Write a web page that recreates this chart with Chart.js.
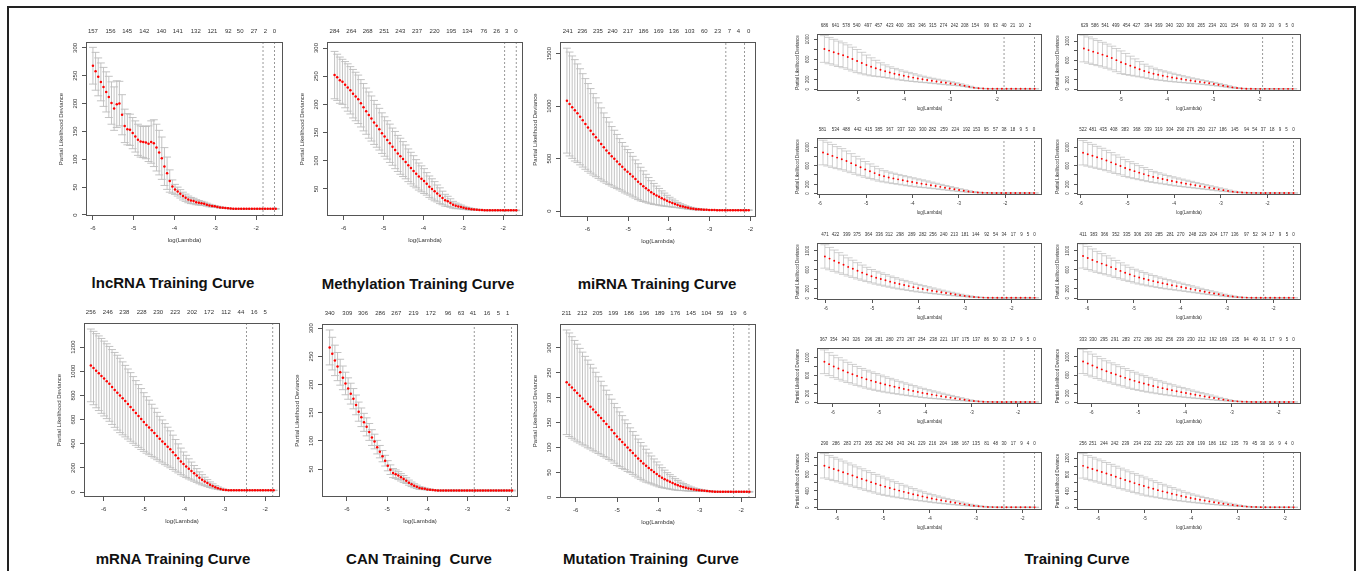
<!DOCTYPE html>
<html lang="en">
<head>
<meta charset="UTF-8" />
<title>Training Curves</title>
<style>
  body { margin: 0; background: #fff; font-family: "Liberation Sans", Arial, sans-serif; }
  #page { position: relative; width: 1360px; height: 571px; overflow: hidden; background: #fff; }
  .frame { position: absolute; left: 7px; top: 6px; width: 1345px; height: 620px; border: 2px solid #222; }
  canvas { position: absolute; }
  .title { position: absolute; font-weight: bold; font-size: 15px; white-space: pre; transform: translate(-50%, -50%); color: #111; }
</style>
</head>
<body>
<div id="page">
  <div class="frame"></div>
  <div class="title" style="left:173px;top:282px">lncRNA Training Curve</div>
  <div class="title" style="left:418px;top:283px">Methylation Training Curve</div>
  <div class="title" style="left:657px;top:283px">miRNA Training Curve</div>
  <div class="title" style="left:173px;top:558px">mRNA Training Curve</div>
  <div class="title" style="left:419px;top:558px">CAN Training  Curve</div>
  <div class="title" style="left:651px;top:558px">Mutation Training  Curve</div>
  <div class="title" style="left:1077px;top:558px">Training Curve</div>
</div>

<script src="https://cdn.jsdelivr.net/npm/chart.js"></script>
<script>
// ---- data: log(lambda) path ends, cut lines, top counts, cv mean and sd ----
const lncPath = [-6.00, -1.52];
const lncCut = [-1.83, -1.55];
const lncTopAt = [-6.0, -5.57, -5.16, -4.74, -4.32, -3.92, -3.48, -3.07, -2.68, -2.39, -2.05, -1.77, -1.55];
const lncTopLab = ['157', '156', '145', '142', '140', '141', '132', '121', '92', '50', '27', '2', '0'];
const lncMean = [268,258,248,239,230,221,212,201,191,199, 200,180,160,154,153,147,141,135,132,131,
  130,128,131,129,121,112,102,87,75,61, 51,46,42,38,34,31,28,26,25,23, 22,21,20,18.5,17,16,15.5,14.5,13.5,13,
  12.5,12,11.5,11,11,11,11,11,11,11, 11,11,11,11,11,11,11,11,11,11];
const lncSd = [33,34,34,34,35,36,37,38,39,42, 40,36,30,28,28,28,28,28,28,28, 29,32,38,42,42,40,38,34,29,20,
  12,9,8,7.5,7,6.5,6,5.5,5,4.5, 4,3.5,3,2.6,2.2,1.8,1.5,1.2,1,0.8, 0.6,0.5,0.5,0.5,0.5,0.5,0.5,0.5,0.5,0.5,
  0.5,0.5,0.5,0.5,0.5,0.5,0.5,0.5,0.5,0.5];

const methPath = [-6.23, -1.67];
const methCut = [-1.96, -1.67];
const methTopAt = [-6.23, -5.81, -5.40, -4.98, -4.58, -4.16, -3.72, -3.30, -2.90, -2.48, -2.16, -1.91, -1.68];
const methTopLab = ['284', '264', '268', '251', '243', '237', '220', '195', '134', '76', '26', '3', '0'];
const methMean = [252,248,243,240,235,230,225,219,214,209, 202,195,188,181,175,168,162,156,149,143,
  137,131,125,119,113,108,103,98,92,87, 82,77,72,68,64,59,54,50,46,42, 38,34,30,28,25,22,20,19,18,16.5,
  15.5,14.7,14,13.5,13.1,12.8,12.5,12,12,12, 12,12,12,12,12,12,12,12,12,12];
const methSd = [42,41,41,40,41,42,42,43,43,43, 42,42,41,41,40,39,38,37,36,35, 34,34,33,33,32,32,31,30,29,28,
  27,25,24,23,22,20,19,18,17,15, 14,12,10.5,9,7.5,6,5,4,3.3,2.7, 2.2,1.8,1.5,1.2,1,0.8,0.6,0.6,0.6,0.6,
  0.6,0.6,0.6,0.6,0.6,0.6,0.6,0.6,0.6,0.6];

const mirPath = [-6.50, -2.04];
const mirCut = [-2.60, -2.14];
const mirTopAt = [-6.48, -6.12, -5.74, -5.38, -5.0, -4.62, -4.25, -3.87, -3.49, -3.13, -2.80, -2.51, -2.29, -2.04];
const mirTopLab = ['241', '236', '235', '240', '217', '186', '169', '136', '103', '60', '23', '7', '4', '0'];
const mirMean = [1052,1020,990,960,932,898,864,830,797,764, 731,703,671,639,607,578,550,522,498,472,
  446,421,395,374,354,328,305,280,257,237, 217,197,179,163,149,135,121,109,97,86, 76,66,57,49,42,36,30,25,21,18,
  16,14,12.5,11,10,9.5,9,8.5,8.5,8.5, 8.5,8.5,8.5,8.5,8.5,8.5,8.5,8.5,8.5,8.5];
const mirSd = [500,495,488,483,470,458,445,432,418,403, 388,376,360,344,328,313,298,283,272,258,
  244,232,222,212,203,193,182,171,160,146, 133,122,110,100,89,80,71,62,53,45, 38,31,25,20,17,14,12,10,8.5,7.5,
  6.5,5.5,4.5,3.5,3,2.5,2,1.5,1.5,1.5, 1.5,1.5,1.5,1.5,1.5,1.5,1.5,1.5,1.5,1.5];

const mrnaPath = [-6.32, -1.79];
const mrnaCut = [-2.46, -1.81];
const mrnaTopAt = [-6.32, -5.90, -5.49, -5.06, -4.65, -4.23, -3.81, -3.39, -2.97, -2.60, -2.27, -2.0];
const mrnaTopLab = ['256', '246', '238', '228', '230', '223', '202', '172', '112', '44', '16', '5'];
const mrnaMean = [1049,1027,1005,984,962,940,918,896,870,846, 823,800,776,753,729,705,680,655,630,605,
  580,556,535,511,488,464,441,419,397,376, 354,329,304,279,254,232,212,192,174,155, 137,118,102,88,74,61,50,40,32,25,
  19.5,16,14.5,14,14,14,14,14,14,14, 14,14,14,14,14,14,14,14,14,14];
const mrnaSd = [301,304,307,309,310,310,310,310,310,310, 310,308,302,296,290,284,276,268,260,252,
  243,234,226,216,206,196,186,178,170,161, 153,142,131,120,110,100,92,83,74,65, 57,49,42,35,29,23,18,14,10,7,
  5,3.5,2.5,2,2,2,2,2,2,2, 2,2,2,2,2,2,2,2,2,2];

const canPath = [-6.43, -1.89];
const canCut = [-2.83, -1.90];
const canTopAt = [-6.43, -5.99, -5.60, -5.17, -4.77, -4.34, -3.91, -3.48, -3.16, -2.86, -2.51, -2.23, -2.0];
const canTopLab = ['340', '309', '306', '286', '267', '219', '172', '96', '63', '41', '16', '5', '1'];
const canMean = [266,255,243,232,222,212,202,193,184,175, 164,152,142,133,125,116,106,99,89,81,
  73,65,56,49,43,41,38.5,35.5,32.5,29.5, 26,23,20.5,18.5,16.5,15.7,15,14,13.5,13, 12.6,12,12,12,12,12,12,12,12,12,
  12,12,12,12,12,12,12,12,12,12, 12,12,12,12,12,12,12,12,12,12];
const canSd = [31,29,27,25,23,21,20,19,18.5,18, 17.5,17,16.5,16,16,15,14,13,12,11, 10,9.5,9,8.5,8,7.5,7,6.5,6,5,
  4.5,4,3.5,3,2.5,2,1.5,1.2,1,0.8, 0.8,0.8,0.8,0.8,0.8,0.8,0.8,0.8,0.8,0.8, 0.8,0.8,0.8,0.8,0.8,0.8,0.8,0.8,0.8,0.8,
  0.8,0.8,0.8,0.8,0.8,0.8,0.8,0.8,0.8,0.8];

const mutPath = [-6.22, -1.80];
const mutCut = [-2.18, -1.81];
const mutTopAt = [-6.22, -5.84, -5.47, -5.09, -4.71, -4.34, -3.97, -3.59, -3.21, -2.84, -2.51, -2.19, -1.91];
const mutTopLab = ['211', '212', '205', '199', '186', '196', '189', '176', '145', '104', '59', '19', '6'];
const mutMean = [231,226,220.5,215,209.5,204,198.5,193,187.5,182, 176.5,171,165,159,153,147,141,135,128.5,122,
  116.5,111,105.5,100,94.5,89,83.5,78,73,68, 63.5,59,55,51,47,43,39.5,36.5,33.5,31, 28.5,26,24,22,20.5,19,17.5,16.5,15.5,14.8,
  14.2,13.6,13,12.5,12,11.7,11.4,11,11,11, 11,11,11,11,11,11,11,11,11,11];
const mutSd = [105,104,102,100,98,95,93,90,88,85, 83,80,77,74,71,68,65,62,60,58, 55,53,50,48,45,43,41,39,37,35,
  33,30,28,26,24,22,20,18,16,14.5, 13,11.5,10,8.5,7,6,5,4,3.2,2.6, 2,1.6,1.3,1,0.8,0.8,0.8,0.8,0.8,0.8,
  0.8,0.8,0.8,0.8,0.8,0.8,0.8,0.8,0.8,0.8];

// small panels (right block), row by row, left then right
const r1lPath = [-5.72, -1.18];
const r1lCut = [-1.84, -1.18];
const r1lTopAt = [-5.72,-5.48,-5.25,-5.02,-4.78,-4.55,-4.31,-4.09,-3.85,-3.61,-3.38,-3.15,-2.91,-2.69,-2.46,-2.22,-2.03,-1.84,-1.65,-1.47,-1.28];
const r1lTopLab = ['686','641','578','540','497','457','423','400','363','346','315','274','242','208','154','99','63','40','21','10','2'];
const r1lMean = [806,774,742,710,680,645,605,565,525,487, 450,420,390,362,336,312,290,270,252,234,
  216,200,186,171,157,143,130,117,104,89, 70,51,33,21,15,12,11,10,10,10, 10,10,10,10,10,10];
const r1lSd = [267,263,258,254,249,244,238,231,215,198, 180,160,140,126,114,106,100,93,86,78,
  70,62,55,50,45,41,37,33,27,21, 15,10,5,3,2,1.2,0.6,0.6,0.6,0.6, 0.6,0.6,0.6,0.6,0.6,0.6];

const r1rPath = [-5.80, -1.28];
const r1rCut = [-1.93, -1.28];
const r1rTopAt = [-5.79,-5.56,-5.34,-5.11,-4.88,-4.66,-4.41,-4.18,-3.95,-3.72,-3.49,-3.26,-3.02,-2.78,-2.54,-2.28,-2.10,-1.92,-1.74,-1.56,-1.41,-1.28];
const r1rTopLab = ['629','586','541','499','454','427','394','369','340','320','300','265','234','201','154','99','63','39','20','9','5','0'];
const r1rMean = [845,812,780,750,718,686,648,604,560,524, 488,452,416,380,350,322,300,281,263,246,
  229,212,196,181,167,153,139,124,110,94, 76,58,40,27,18,13,11,10,10,10, 10,10,10,10,10,10];
const r1rSd = [277,272,266,260,255,250,245,240,235,218, 198,178,158,140,128,117,108,100,95,87,
  79,71,63,56,51,46,41,37,33,27, 21,15,10,5,3,1.5,1,0.6,0.6,0.6, 0.6,0.6,0.6,0.6,0.6,0.6];

const r2lPath = [-5.93, -1.38];
const r2lCut = [-2.03, -1.37];
const r2lTopAt = [-5.94,-5.66,-5.43,-5.18,-4.95,-4.73,-4.49,-4.25,-4.02,-3.78,-3.57,-3.32,-3.08,-2.84,-2.62,-2.41,-2.21,-2.03,-1.84,-1.67,-1.54,-1.38];
const r2lTopLab = ['581','534','488','442','415','385','367','337','320','300','282','259','224','192','153','95','57','38','18','9','5','0'];
const r2lMean = [885,850,812,775,740,700,655,608,565,520, 480,440,400,370,346,325,305,285,265,246,
  228,212,196,178,160,142,124,107,90,73, 57,42,30,21,15,12.5,11,10,10,10, 10,10,10,10,10,10];
const r2lSd = [266,257,248,238,229,218,206,194,182,170, 158,146,134,122,117,112,106,101,97,93,
  87,81,74,67,60,54,48,42,36,30, 23,16,10,6,4,2,1,0.6,0.6,0.6, 0.6,0.6,0.6,0.6,0.6,0.6];

const r2rPath = [-5.95, -1.44];
const r2rCut = [-2.09, -1.44];
const r2rTopAt = [-5.95,-5.74,-5.52,-5.29,-5.05,-4.80,-4.56,-4.33,-4.09,-3.86,-3.65,-3.42,-3.18,-2.95,-2.70,-2.45,-2.27,-2.09,-1.90,-1.73,-1.59,-1.44];
const r2rTopLab = ['522','481','435','408','383','368','339','319','304','290','276','250','217','186','145','94','54','37','18','9','5','0'];
const r2rMean = [880,847,814,781,748,712,672,632,592,550, 514,482,450,418,386,358,335,312,290,268,
  248,230,212,194,176,158,141,124,106,88, 71,55,38,27,19,14,12,11,10,10, 10,10,10,10,10,10];
const r2rSd = [264,256,247,238,229,220,211,201,192,183, 173,162,152,141,131,120,112,105,98,93,
  87,80,74,68,61,55,49,43,37,32, 26,18,11,7,5,3,1.5,1,0.6,0.6, 0.6,0.6,0.6,0.6,0.6,0.6];

const r3lPath = [-6.02, -1.50];
const r3lCut = [-2.16, -1.50];
const r3lTopAt = [-6.02,-5.79,-5.55,-5.33,-5.08,-4.85,-4.64,-4.40,-4.15,-3.91,-3.69,-3.46,-3.23,-3.00,-2.77,-2.53,-2.34,-2.16,-1.96,-1.78,-1.64,-1.50];
const r3lTopLab = ['471','422','399','375','364','336','312','298','289','282','256','240','213','181','144','92','54','34','17','9','5','0'];
const r3lMean = [880,835,791,747,705,660,620,578,539,502, 464,433,405,378,350,324,300,278,256,234,
  213,195,177,159,142,126,110,94,79,64, 50,38,28,20,15,12.5,11,10,10,10, 10,10,10,10,10,10];
const r3lSd = [246,235,224,213,202,191,181,171,160,150, 141,135,129,123,117,111,105,98,92,85,
  79,72,66,59,52,45,39,33,27,21, 15,11,7,5,3,2,1,0.6,0.6,0.6, 0.6,0.6,0.6,0.6,0.6,0.6];

const r3rPath = [-6.09, -1.57];
const r3rCut = [-2.21, -1.57];
const r3rTopAt = [-6.09,-5.86,-5.63,-5.39,-5.15,-4.92,-4.69,-4.46,-4.22,-3.99,-3.74,-3.52,-3.29,-3.06,-2.83,-2.58,-2.39,-2.21,-2.04,-1.86,-1.71,-1.57];
const r3rTopLab = ['411','383','366','352','335','306','293','285','281','270','248','229','204','177','136','97','52','34','17','9','5','0'];
const r3rMean = [890,848,806,766,730,694,656,616,576,538, 502,467,438,412,386,362,338,316,295,275,
  256,237,217,197,177,157,137,119,101,84, 66,50,37,25,18,14,12,11,10,10, 10,10,10,10,10,10];
const r3rSd = [254,243,232,221,210,200,190,180,170,160, 150,144,138,131,125,118,112,106,99,93,
  86,80,73,67,60,53,47,40,34,28, 21,16,10,6,4,2.5,1.5,1,0.6,0.6, 0.6,0.6,0.6,0.6,0.6,0.6];

const r4lPath = [-6.18, -1.64];
const r4lCut = [-2.30, -1.64];
const r4lTopAt = [-6.20,-5.98,-5.73,-5.49,-5.23,-5.00,-4.77,-4.54,-4.31,-4.08,-3.83,-3.60,-3.36,-3.13,-2.90,-2.68,-2.49,-2.30,-2.11,-1.93,-1.78,-1.64];
const r4lTopLab = ['367','354','343','326','296','281','280','273','267','254','238','221','197','175','137','86','50','33','17','9','5','0'];
const r4lMean = [905,852,800,755,710,668,628,590,552,517, 486,456,428,400,374,349,325,301,279,256,
  234,212,192,174,157,140,123,106,90,74, 58,43,32,23,16,13,11.5,10,10,10, 10,10,10,10,10,10];
const r4lSd = [264,256,248,240,233,225,218,211,204,199, 193,187,180,171,162,153,144,136,127,119,
  110,102,93,84,75,66,58,50,41,32, 23,14,9,6,4,2,1.2,0.6,0.6,0.6, 0.6,0.6,0.6,0.6,0.6,0.6];

const r4rPath = [-6.18, -1.68];
const r4rCut = [-2.32, -1.68];
const r4rTopAt = [-6.18,-5.97,-5.73,-5.50,-5.26,-5.02,-4.79,-4.56,-4.33,-4.10,-3.87,-3.64,-3.40,-3.18,-2.92,-2.69,-2.50,-2.32,-2.14,-1.96,-1.82,-1.68];
const r4rTopLab = ['333','330','295','291','283','272','268','262','256','239','230','212','192','169','135','94','49','31','17','9','5','0'];
const r4rMean = [900,855,812,768,726,686,648,612,576,540, 506,474,444,416,388,362,337,313,290,268,
  246,225,206,187,168,150,132,114,96,78, 61,45,33,23,17,13,11.5,10,10,10, 10,10,10,10,10,10];
const r4rSd = [265,257,250,243,236,229,222,216,210,203, 196,189,180,172,163,154,146,137,129,121,
  112,104,95,86,76,67,59,50,41,32, 23,15,9,6,4,2,1.2,0.6,0.6,0.6, 0.6,0.6,0.6,0.6,0.6,0.6];

const r5lPath = [-6.27, -1.74];
const r5lCut = [-2.40, -1.74];
const r5lTopAt = [-6.27,-6.02,-5.78,-5.56,-5.32,-5.09,-4.87,-4.63,-4.40,-4.17,-3.94,-3.71,-3.46,-3.23,-3.00,-2.77,-2.58,-2.40,-2.20,-2.02,-1.88,-1.74];
const r5lTopLab = ['290','286','283','273','265','262','248','243','241','229','216','204','188','167','135','81','48','30','17','9','4','0'];
const r5lMean = [1000,962,925,888,848,808,768,728,688,648, 610,572,536,502,470,438,408,378,350,322,
  296,270,244,220,198,177,157,137,117,98, 80,63,48,36,26,18,14,12,11,10, 10,10,10,10,10,10];
const r5lSd = [291,285,278,272,266,260,253,247,241,235, 229,223,217,207,195,183,171,159,147,135,
  123,111,100,92,83,74,65,56,47,38, 29,20,14,9,6,4,2,1.2,0.6,0.6, 0.6,0.6,0.6,0.6,0.6,0.6];

const r5rPath = [-6.32, -1.81];
const r5rCut = [-2.45, -1.81];
const r5rTopAt = [-6.32,-6.11,-5.87,-5.64,-5.41,-5.16,-4.94,-4.71,-4.48,-4.25,-4.02,-3.79,-3.55,-3.32,-3.07,-2.84,-2.64,-2.47,-2.29,-2.11,-1.97,-1.83];
const r5rTopLab = ['256','251','244','242','239','234','232','232','226','223','208','199','186','162','135','79','45','30','16','9','4','0'];
const r5rMean = [1010,972,934,898,862,826,788,748,708,670, 632,594,558,522,488,456,424,394,366,338,
  310,284,258,233,212,192,172,152,132,114, 96,80,65,50,37,26,19,15,12.5,11, 10,10,10,10,10,10];
const r5rSd = [295,289,283,277,271,265,259,253,247,241, 235,229,224,219,207,195,183,171,160,148,
  136,124,112,101,92,83,74,65,56,47, 38,30,22,15,10,6,4,2,1.2,0.6, 0.6,0.6,0.6,0.6,0.6,0.6];

// axis ticks
const xTicks6 = [-6, -5, -4, -3, -2];
const xTicks5 = [-5, -4, -3, -2];
const yT300 = [0, 50, 100, 150, 200, 250, 300];
const yT300b = [50, 100, 150, 200, 250, 300];
const yT1500 = [0, 500, 1000, 1500];
const yT1200 = [0, 200, 400, 600, 800, 1000, 1200];
const ySmall = [0, 200, 400, 600, 800, 1000];
const ySmallLab = [0, 200, 600, 1000];
const ySmall5Lab = [0, 400, 800, 1200];

// ---- layout of each panel (plot box in page pixels, axis ranges) ----
const panels = [
  { big: true, box: [86, 42, 283, 216], x: [-6.17, -1.34], y: [-1.8, 310.6], xt: xTicks6, yt: yT300, yl: yT300,
    path: lncPath, mean: lncMean, sd: lncSd, cut: lncCut, topAt: lncTopAt, topLab: lncTopLab },
  { big: true, box: [327, 42, 523, 216], x: [-6.42, -1.50], y: [2, 310.7], xt: xTicks6, yt: yT300b, yl: yT300b,
    path: methPath, mean: methMean, sd: methSd, cut: methCut, topAt: methTopAt, topLab: methTopLab },
  { big: true, box: [560, 42, 756, 217], x: [-6.67, -1.86], y: [-57, 1611], xt: xTicks6, yt: yT1500, yl: yT1500,
    path: mirPath, mean: mirMean, sd: mirSd, cut: mirCut, topAt: mirTopAt, topLab: mirTopLab },
  { big: true, box: [84, 323, 280, 497], x: [-6.49, -1.63], y: [-41, 1400], xt: xTicks6, yt: yT1200, yl: yT1200,
    path: mrnaPath, mean: mrnaMean, sd: mrnaSd, cut: mrnaCut, topAt: mrnaTopAt, topLab: mrnaTopLab },
  { big: true, box: [322, 324, 518, 497], x: [-6.62, -1.74], y: [0.5, 307.6], xt: xTicks6, yt: yT300b, yl: yT300b,
    path: canPath, mean: canMean, sd: canSd, cut: canCut, topAt: canTopAt, topLab: canTopLab },
  { big: true, box: [560, 324, 756, 498], x: [-6.38, -1.64], y: [-1.4, 348], xt: xTicks6, yt: yT300, yl: yT300,
    path: mutPath, mean: mutMean, sd: mutSd, cut: mutCut, topAt: mutTopAt, topLab: mutTopLab },

  { box: [817, 34, 1042, 91], x: [-5.88, -1.02], y: [-34, 1106], xt: xTicks5, yt: ySmall, yl: ySmallLab,
    path: r1lPath, mean: r1lMean, sd: r1lSd, cut: r1lCut, topAt: r1lTopAt, topLab: r1lTopLab },
  { box: [1077, 34, 1301, 91], x: [-5.95, -1.10], y: [-35, 1145], xt: xTicks5, yt: ySmall, yl: ySmallLab,
    path: r1rPath, mean: r1rMean, sd: r1rSd, cut: r1rCut, topAt: r1rTopAt, topLab: r1rTopLab },
  { box: [817, 138, 1042, 195], x: [-6.06, -1.21], y: [-34, 1199], xt: xTicks6, yt: ySmall, yl: ySmallLab,
    path: r2lPath, mean: r2lMean, sd: r2lSd, cut: r2lCut, topAt: r2lTopAt, topLab: r2lTopLab },
  { box: [1077, 138, 1301, 195], x: [-6.08, -1.28], y: [-34, 1199], xt: xTicks6, yt: ySmall, yl: ySmallLab,
    path: r2rPath, mean: r2rMean, sd: r2rSd, cut: r2rCut, topAt: r2rTopAt, topLab: r2rTopLab },
  { box: [817, 243, 1042, 300], x: [-6.19, -1.34], y: [-36, 1163], xt: xTicks6, yt: ySmall, yl: ySmallLab,
    path: r3lPath, mean: r3lMean, sd: r3lSd, cut: r3lCut, topAt: r3lTopAt, topLab: r3lTopLab },
  { box: [1077, 243, 1301, 300], x: [-6.22, -1.41], y: [-36, 1163], xt: xTicks6, yt: ySmall, yl: ySmallLab,
    path: r3rPath, mean: r3rMean, sd: r3rSd, cut: r3rCut, topAt: r3rTopAt, topLab: r3rTopLab },
  { box: [817, 348, 1042, 404], x: [-6.34, -1.48], y: [-35, 1211], xt: xTicks6, yt: ySmall, yl: ySmallLab,
    path: r4lPath, mean: r4lMean, sd: r4lSd, cut: r4lCut, topAt: r4lTopAt, topLab: r4lTopLab },
  { box: [1077, 348, 1301, 404], x: [-6.31, -1.52], y: [-35, 1196], xt: xTicks6, yt: ySmall, yl: ySmallLab,
    path: r4rPath, mean: r4rMean, sd: r4rSd, cut: r4rCut, topAt: r4rTopAt, topLab: r4rTopLab },
  { box: [817, 452, 1042, 510], x: [-6.43, -1.58], y: [-55, 1330], xt: xTicks6, yt: yT1200, yl: ySmall5Lab,
    path: r5lPath, mean: r5lMean, sd: r5lSd, cut: r5lCut, topAt: r5lTopAt, topLab: r5lTopLab },
  { box: [1077, 452, 1301, 510], x: [-6.45, -1.65], y: [-56, 1345], xt: xTicks6, yt: yT1200, yl: ySmall5Lab,
    path: r5rPath, mean: r5rMean, sd: r5rSd, cut: r5rCut, topAt: r5rTopAt, topLab: r5rTopLab },
];

const FONT = '"Liberation Sans", Arial, Helvetica, sans-serif';
const BIG = { padL: 34, padT: 20, padB: 34, padR: 8, font: 6, tick: 4, xPad: 4.3, topPad: 6.7, xtPad: 5.7,
  yLab: 10.5, yTitle: 25, r: 1.25, bar: 0.9 };
const SMALL = { padL: 26, padT: 14, padB: 24, padR: 8, font: 4.5, tick: 3, xPad: 2.6, topPad: 5.6, xtPad: 3.3,
  yLab: 9, yTitle: 19, r: 0.95, bar: 0.7 };

// evenly spaced log(lambda) values along the glmnet path
function lambdaPath(from, to, n) {
  const out = [];
  for (let i = 0; i < n; i++) out.push(from + (to - from) * i / (n - 1));
  return out;
}

function makePanel(p) {
  const s = p.big ? BIG : SMALL;
  const [l, t, r, b] = p.box;
  const cv = document.createElement('canvas');
  cv.width = r - l + s.padL + s.padR;
  cv.height = b - t + s.padT + s.padB;
  cv.style.left = (l - s.padL) + 'px';
  cv.style.top = (t - s.padT) + 'px';
  document.getElementById('page').appendChild(cv);

  const xs = lambdaPath(p.path[0], p.path[1], p.mean.length);
  const pts = xs.map((x, i) => ({ x: x, y: p.mean[i] }));
  const font = { size: s.font, family: FONT };

  // error bars under the points, box and rotated y labels on top
  const cvPlot = {
    id: 'cvPlot',
    beforeDatasetsDraw(chart) {
      const { ctx, chartArea: a, scales: { x, y } } = chart;
      const cap = (a.right - a.left) * 0.02;
      ctx.save();
      ctx.strokeStyle = '#bcbcbc';
      ctx.lineWidth = s.bar;
      ctx.beginPath();
      pts.forEach((pt, i) => {
        const px = x.getPixelForValue(pt.x);
        const hi = y.getPixelForValue(pt.y + p.sd[i]);
        const lo = y.getPixelForValue(pt.y - p.sd[i]);
        ctx.moveTo(px, hi); ctx.lineTo(px, lo);
        ctx.moveTo(px - cap, hi); ctx.lineTo(px + cap, hi);
        ctx.moveTo(px - cap, lo); ctx.lineTo(px + cap, lo);
      });
      ctx.stroke();
      ctx.restore();
    },
    afterDraw(chart) {
      const { ctx, chartArea: a, scales: { y } } = chart;
      ctx.save();
      ctx.strokeStyle = '#555';
      ctx.lineWidth = 1;
      ctx.strokeRect(Math.round(a.left) + 0.5, Math.round(a.top) + 0.5,
        Math.round(a.right - a.left) - 1, Math.round(a.bottom - a.top) - 1);
      ctx.fillStyle = '#333';
      ctx.font = s.font + 'px ' + FONT;
      ctx.textAlign = 'center';
      ctx.textBaseline = 'middle';
      p.yl.forEach(v => {
        ctx.save();
        ctx.translate(a.left - s.yLab, y.getPixelForValue(v));
        ctx.rotate(-Math.PI / 2);
        ctx.fillText(String(v), 0, 0);
        ctx.restore();
      });
      ctx.translate(a.left - s.yTitle, (a.top + a.bottom) / 2);
      ctx.rotate(-Math.PI / 2);
      ctx.fillText('Partial Likelihood Deviance', 0, 0);
      ctx.restore();
    }
  };

  const cutSets = p.cut.map(c => ({
    data: [{ x: c, y: p.y[0] }, { x: c, y: p.y[1] }],
    showLine: true, borderColor: '#808080', borderWidth: 0.8, borderDash: [2, 2],
    pointRadius: 0, xAxisID: 'x', yAxisID: 'y', order: 1
  }));

  new Chart(cv, {
    type: 'scatter',
    data: {
      datasets: [{
        data: pts, showLine: false, pointRadius: s.r, pointBackgroundColor: '#ff0000',
        pointBorderWidth: 0, xAxisID: 'x', yAxisID: 'y', order: 0
      }].concat(cutSets)
    },
    options: {
      responsive: false, animation: false, events: [], devicePixelRatio: 1,
      layout: { padding: { left: 0, top: 0, bottom: 0, right: s.padR } },
      plugins: { legend: { display: false }, tooltip: { enabled: false } },
      scales: {
        x: {
          type: 'linear', position: 'bottom', min: p.x[0], max: p.x[1],
          afterBuildTicks: sc => { sc.ticks = p.xt.map(v => ({ value: v })); },
          afterFit: sc => { sc.height = s.padB; },
          ticks: { font: font, color: '#333', padding: s.xPad, maxRotation: 0, autoSkip: false },
          grid: { display: true, drawOnChartArea: false, drawTicks: true, tickLength: s.tick, color: '#555' },
          border: { display: false },
          title: { display: true, text: 'log(Lambda)', font: font, color: '#333', padding: { top: 0, bottom: s.xtPad } }
        },
        x2: {
          type: 'linear', position: 'top', min: p.x[0], max: p.x[1],
          afterBuildTicks: sc => { sc.ticks = p.topAt.map(v => ({ value: v })); },
          afterFit: sc => { sc.height = s.padT; },
          ticks: { callback: (v, i) => p.topLab[i], font: font, color: '#333', padding: s.topPad, maxRotation: 0, autoSkip: false },
          grid: { display: false, drawTicks: false, tickLength: 0 },
          border: { display: false }
        },
        y: {
          type: 'linear', position: 'left', min: p.y[0], max: p.y[1],
          afterBuildTicks: sc => { sc.ticks = p.yt.map(v => ({ value: v })); },
          afterFit: sc => { sc.width = s.padL; },
          ticks: { display: false },
          grid: { display: true, drawOnChartArea: false, drawTicks: true, tickLength: s.tick, color: '#555' },
          border: { display: false }
        }
      }
    },
    plugins: [cvPlot]
  });
}

panels.forEach(makePanel);
</script>
</body>
</html>
